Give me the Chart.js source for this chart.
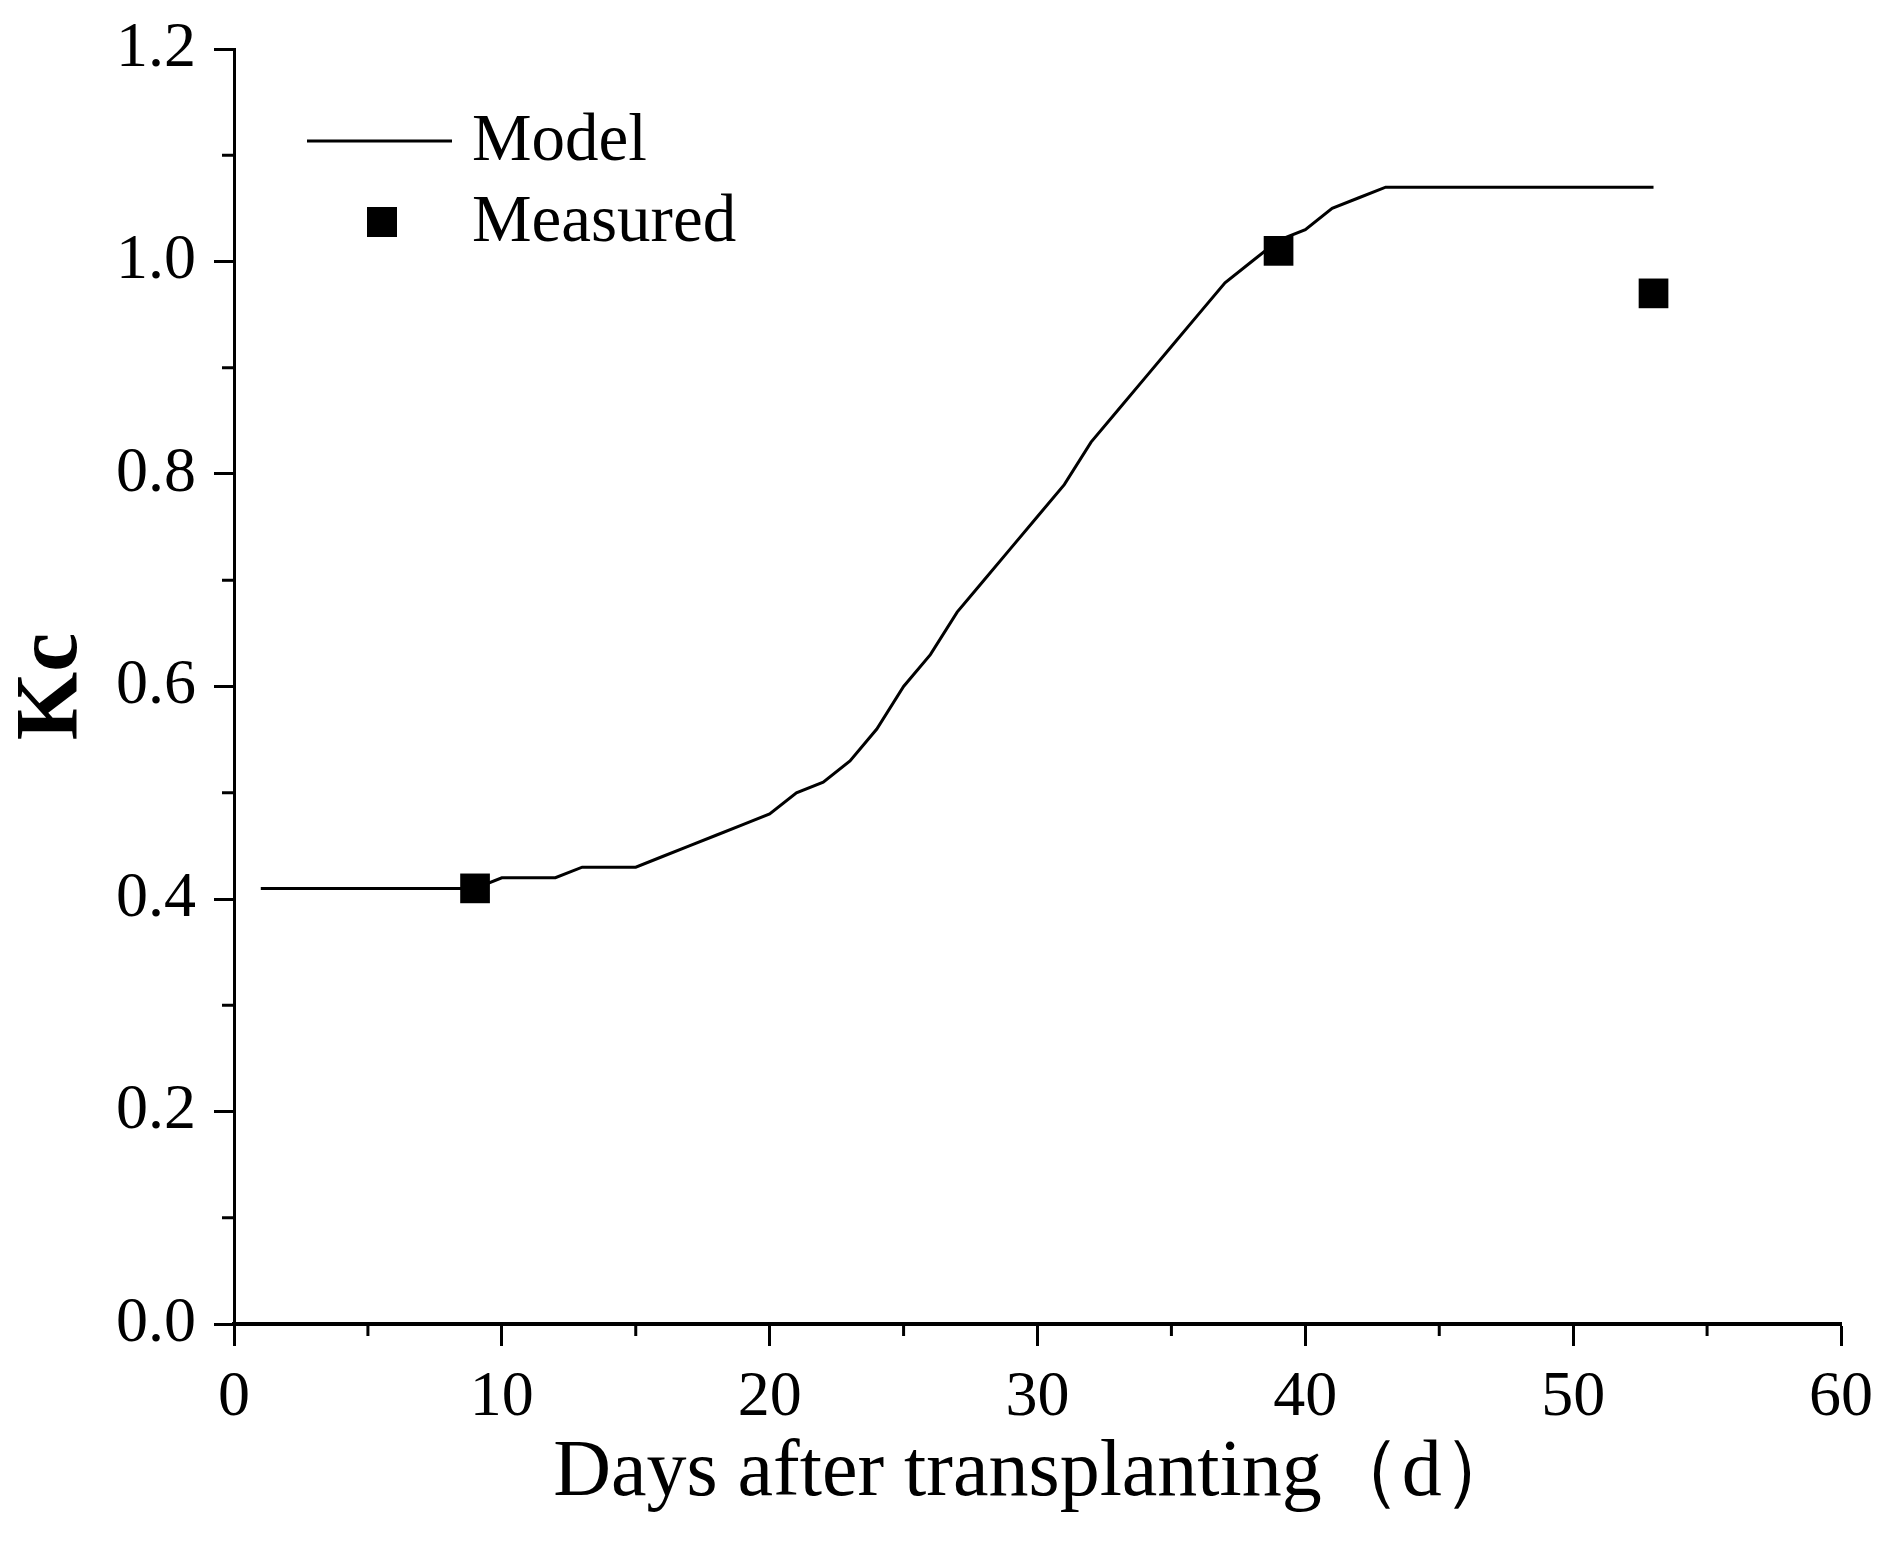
<!DOCTYPE html>
<html>
<head>
<meta charset="utf-8">
<script src="https://cdn.jsdelivr.net/npm/chart.js@4.4.1/dist/chart.umd.min.js"></script>
<style>
  html, body { margin: 0; padding: 0; background: #fff; }
  #wrap { width: 1895px; height: 1542px; }
</style>
</head>
<body>
<div id="wrap"><canvas id="kcChart"></canvas></div>
<script>
// model Kc, one value per day after transplanting
const modelDays = [1,2,3,4,5,6,7,8,9,10,11,12,13,14,15,16,17,18,19,20,21,22,23,24,25,26,27,
  28,29,30,31,32,33,34,35,36,37,38,39,40,41,42,43,44,45,46,47,48,49,50,51,52,53];
const modelKc = [0.41,0.41,0.41,0.41,0.41,0.41,0.41,0.41,0.41,0.42,0.42,0.42,0.43,0.43,0.43,
  0.44,0.45,0.46,0.47,0.48,0.50,0.51,0.53,0.56,0.60,0.63,0.67,0.70,0.73,0.76,0.79,0.83,0.86,
  0.89,0.92,0.95,0.98,1.00,1.02,1.03,1.05,1.06,1.07,1.07,1.07,1.07,1.07,1.07,1.07,1.07,1.07,1.07,1.07];

const measuredDays = [9, 39, 53];
const measuredKc = [0.41, 1.01, 0.97];

const xTicks = [0, 10, 20, 30, 40, 50, 60];
const yTicks = [0.0, 0.2, 0.4, 0.6, 0.8, 1.0, 1.2];
const xMinor = [5, 15, 25, 35, 45, 55];
const yMinor = [0.1, 0.3, 0.5, 0.7, 0.9, 1.1];

const serif = "'Liberation Serif', 'Times New Roman', serif";

// minor ticks + legend, drawn on top
const extras = {
  id: 'extras',
  afterDraw(chart) {
    const c = chart.ctx;
    const xs = chart.scales.x, ys = chart.scales.y;
    c.save();
    c.strokeStyle = '#000';
    c.lineWidth = 3;
    xMinor.forEach(v => {
      const px = xs.getPixelForValue(v);
      c.beginPath(); c.moveTo(px, xs.top); c.lineTo(px, xs.top + 12); c.stroke();
    });
    yMinor.forEach(v => {
      const py = ys.getPixelForValue(v);
      c.beginPath(); c.moveTo(ys.right, py); c.lineTo(ys.right - 12, py); c.stroke();
    });

    // legend
    c.lineWidth = 3;
    c.beginPath(); c.moveTo(307, 141); c.lineTo(452, 141); c.stroke();
    c.fillStyle = '#000';
    c.fillRect(367, 207, 30, 30);
    c.font = '67px ' + serif;
    c.textBaseline = 'middle';
    c.fillText('Model', 472, 142);
    c.fillText('Measured', 472, 223);
    c.restore();
  }
};

new Chart(document.getElementById('kcChart'), {
  type: 'scatter',
  data: {
    datasets: [
      {
        label: 'Model',
        type: 'line',
        data: modelDays.map((d, i) => ({ x: d, y: modelKc[i] })),
        borderColor: '#000',
        borderWidth: 3,
        pointRadius: 0,
        tension: 0,
        fill: false
      },
      {
        label: 'Measured',
        data: measuredDays.map((d, i) => ({ x: d, y: measuredKc[i] })),
        pointStyle: 'rect',
        pointRadius: 21,
        backgroundColor: '#000',
        borderColor: '#000',
        borderWidth: 0
      }
    ]
  },
  options: {
    responsive: true,
    maintainAspectRatio: false,
    animation: false,
    devicePixelRatio: 1,
    layout: { padding: { left: 0, top: 49, right: 54, bottom: 0 } },
    plugins: { legend: { display: false }, tooltip: { enabled: false } },
    scales: {
      x: {
        type: 'linear',
        min: 0, max: 60,
        afterFit: s => { s.height = 218; s.paddingLeft = 0; s.paddingRight = 0; },
        afterBuildTicks: s => { s.ticks = xTicks.map(v => ({ value: v })); },
        border: { display: true, color: '#000', width: 4 },
        grid: { drawOnChartArea: false, drawTicks: true, tickLength: 22, tickWidth: 3, tickColor: '#000' },
        ticks: { color: '#000', padding: 14, font: { family: serif, size: 64 } },
        title: {
          display: true,
          text: 'Days after transplanting（d）',
          color: '#000',
          font: { family: serif, size: 80 },
          padding: { top: 0, bottom: 20 }
        }
      },
      y: {
        type: 'linear',
        min: 0, max: 1.2,
        afterFit: s => { s.width = 234; s.paddingTop = 0; s.paddingBottom = 0; },
        afterBuildTicks: s => { s.ticks = yTicks.map(v => ({ value: v })); },
        border: { display: true, color: '#000', width: 3 },
        grid: { drawOnChartArea: false, drawTicks: true, tickLength: 20, tickWidth: 3, tickColor: '#000' },
        ticks: { color: '#000', padding: 18, font: { family: serif, size: 64 }, callback: v => v.toFixed(1) },
        title: {
          display: true,
          text: 'Kc',
          color: '#000',
          font: { family: serif, size: 88, weight: 'bold' },
          padding: { top: 0, bottom: 0 }
        }
      }
    }
  },
  plugins: [extras]
});
</script>
</body>
</html>
